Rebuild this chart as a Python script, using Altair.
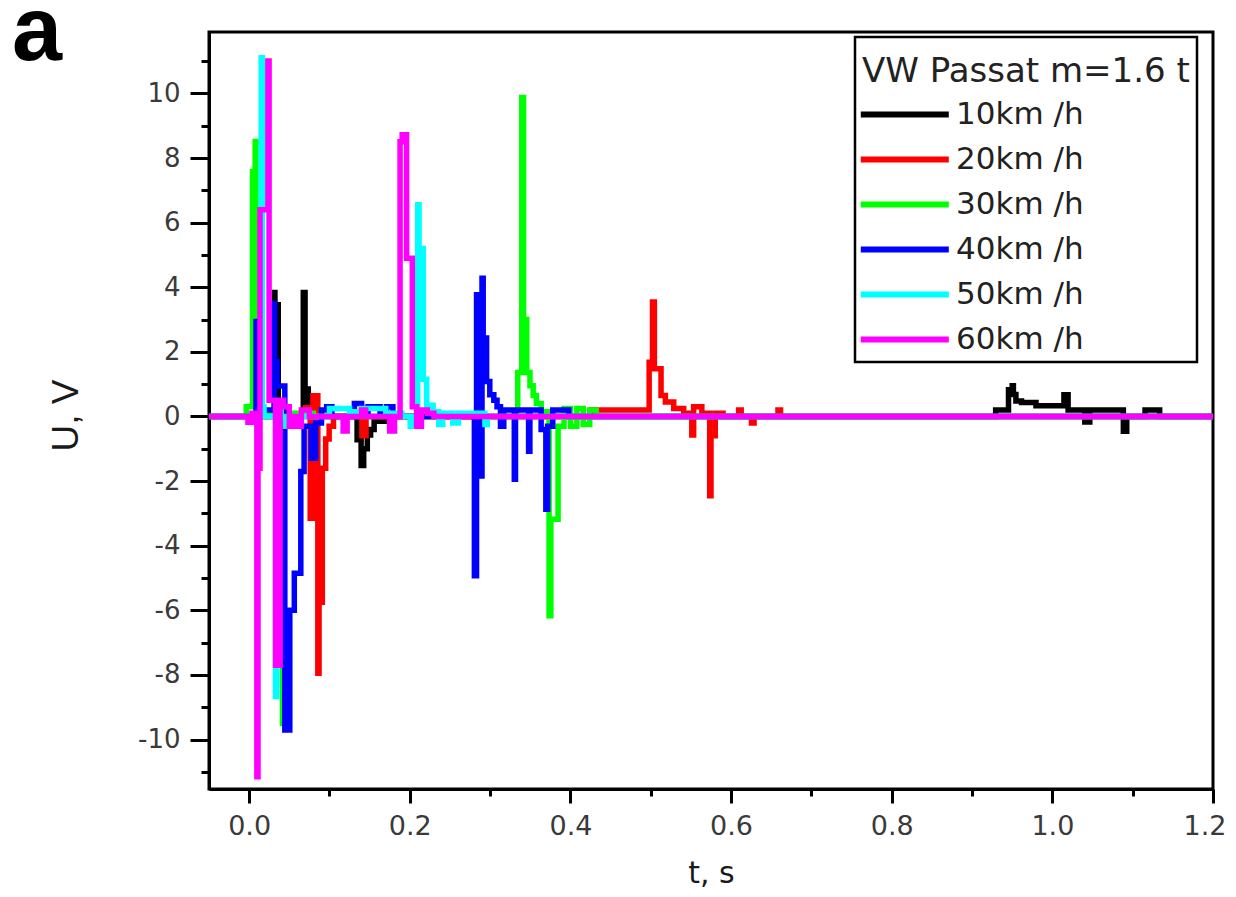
import altair as alt
import pandas as pd

series_names = ["10km /h", "20km /h", "30km /h", "40km /h", "50km /h", "60km /h"]
series_colors = ["#000000", "#ff0000", "#00ff00", "#0000ff", "#00ffff", "#ff00ff"]

t10 = [-0.05, 0.0314, 0.0321, 0.0362, 0.045, 0.0674, 0.0696, 0.0736, 0.0776, 0.085,
       0.1344, 0.1394, 0.1426, 0.1471, 0.1512, 0.1556, 0.1716,
       0.9294, 0.9454, 0.9500, 0.9515, 0.9546, 0.9616, 0.9796, 1.0144, 1.0196,
       1.0404, 1.0466, 1.0884, 1.0926, 1.1154, 1.1336, 1.2]
u10 = [0, 3.84, 3.46, 0.3, 0.05, 3.84, 0.85, 0.4, 0.15, 0,
       -0.72, -1.52, -1.0, -0.57, -0.4, -0.15, 0,
       0.2, 0.83, 0.95, 0.68, 0.48, 0.43, 0.33, 0.67, 0.2,
       -0.17, 0.2, -0.46, 0, 0.2, 0, 0]

t20 = [-0.05, 0.0705, 0.076, 0.0795, 0.0855, 0.087, 0.0911, 0.0953, 0.0996, 0.105,
       0.1405, 0.1455, 0.426, 0.498, 0.5022, 0.5045, 0.5128, 0.5182, 0.5286, 0.541,
       0.5511, 0.5534, 0.5636, 0.5734, 0.575, 0.5803, 0.59, 0.6094, 0.6126, 0.6254,
       0.6286, 0.6584, 0.6616, 1.2]
u20 = [0, 0.27, -3.15, 0.64, -7.95, -5.75, -1.6, -0.7, -0.3, 0,
       -0.6, 0, 0.2, 1.68, 3.54, 1.48, 0.65, 0.45, 0.25, 0.1,
       -0.57, 0.3, 0.1, -2.45, -0.6, 0.1, 0, 0.2, 0, -0.2,
       0, 0.2, 0, 0]

t30 = [-0.05, -0.0036, 0.0042, 0.0075, 0.0085, 0.012, 0.0415, 0.042, 0.08,
       0.3344, 0.3394, 0.3416, 0.3456, 0.3496, 0.3536, 0.3576, 0.3636, 0.3734,
       0.3756, 0.3846, 0.392, 0.400, 0.408, 0.416, 0.424, 0.432, 1.2]
u30 = [0, 0.3, 7.58, 8.51, 0.3, 0.1, -9.5, 0.1, 0,
       1.36, 9.87, 3.0, 1.36, 0.95, 0.65, 0.4, 0.15, -6.17,
       -3.18, -0.3, 0.25, -0.3, 0.25, -0.25, 0.2, 0, 0]

t40 = [-0.05, 0.0085, 0.0088, 0.0312, 0.0316, 0.0346, 0.0444, 0.0506, 0.0562, 0.0643,
       0.0684, 0.0773, 0.0829, 0.09, 0.0965, 0.103, 0.131, 0.14, 0.146, 0.148,
       0.163, 0.171, 0.179, 0.2804, 0.2831, 0.2866, 0.2899, 0.2914, 0.2956, 0.2996,
       0.3046, 0.3086, 0.3129, 0.317, 0.3301, 0.3316, 0.3479, 0.3495, 0.3635, 0.3694,
       0.3716, 0.378, 0.398, 1.2]
u40 = [0, 2.94, 0.2, 3.5, 1.7, 0.94, -9.7, -6.0, -4.85, -1.7,
       -0.3, -1.29, -0.2, 0.2, 0.3, 0, 0.4, 0.25, 0.1, 0.3,
       0.1, 0.3, 0, -4.93, 3.77, -1.84, 4.28, 2.43, 1.08, 0.67,
       0.5, 0.3, -0.3, 0.2, -1.94, 0.2, -1.08, 0.2, -0.4, -2.87,
       -0.3, 0.2, 0, 0]

t50 = [-0.05, 0.015, 0.0165, 0.0185, 0.0328, 0.0343, 0.04, 0.045, 0.051, 0.10,
       0.125, 0.14, 0.17, 0.19, 0.2005, 0.2055, 0.2099, 0.2115, 0.2168, 0.221,
       0.229, 0.236, 0.241, 0.2535, 0.2605, 0.2935, 0.2965, 1.2]
u50 = [0, 11.1, 0.3, 0, -8.67, 0.2, 0, -0.3, 0, 0.25,
       0.15, 0.25, 0.1, 0, -0.3, 0, 6.55, 5.2, 1.15, 0.35,
       0.15, -0.25, 0.1, -0.2, 0.1, -0.25, 0, 0]

t60 = [-0.05, -0.0015, 0.0035, 0.0096, 0.011, 0.0135, 0.0233, 0.0248, 0.0328, 0.0385,
       0.043, 0.05, 0.055, 0.06, 0.065, 0.075, 0.117, 0.122, 0.14, 0.145,
       0.175, 0.181, 0.1879, 0.1905, 0.196, 0.2031, 0.2085, 0.2145, 0.222, 0.23, 1.2]
u60 = [0, -0.18, 0.1, -11.15, -1.6, 6.4, 11.0, 0.5, -7.7, 0.5,
       0.3, -0.3, 0, -0.3, 0.2, 0, -0.45, 0, 0.2, 0,
       -0.45, 0, 8.5, 8.72, 4.9, 0.3, -0.3, 0.2, 0.1, 0, 0]

major_x = [0.0, 0.2, 0.4, 0.6, 0.8, 1.0, 1.2]
minor_x = [0.1, 0.3, 0.5, 0.7, 0.9, 1.1]
major_y = [-10, -8, -6, -4, -2, 0, 2, 4, 6, 8, 10]
minor_y = [-11, -9, -7, -5, -3, -1, 1, 3, 5, 7, 9, 11]
panel_label = "a"
legend_title = "VW Passat m=1.6 t"

frames = []
for name, ts, us in zip(series_names, [t10, t20, t30, t40, t50, t60],
                        [u10, u20, u30, u40, u50, u60]):
    frames.append(pd.DataFrame({"t": ts, "u": us, "series": name}))
df = pd.concat(frames, ignore_index=True)

xscale = alt.Scale(domain=[-0.05, 1.2], nice=False, zero=False)
yscale = alt.Scale(domain=[-11.53, 11.9], nice=False, zero=False)

LABEL_FONT = "DejaVu Sans"

lines = alt.Chart(df).mark_line(
    interpolate="step-after", strokeWidth=5.5, strokeJoin="miter", strokeCap="butt", clip=True
).encode(
    x=alt.X("t:Q", scale=xscale, axis=alt.Axis(
        orient="bottom", values=major_x, format=".1f", tickSize=14, tickWidth=3,
        tickColor="black", domainColor="black", domainWidth=3, grid=False,
        labelFont=LABEL_FONT, labelFontSize=27, labelColor="#3a3a3a", labelPadding=10,
        labelFlush=True, labelFlushOffset=13, title="t, s", titleFont=LABEL_FONT,
        titleFontSize=30, titleFontWeight="normal", titleColor="#1a1a1a", titleY=93,
        titleBaseline="alphabetic")),
    y=alt.Y("u:Q", scale=yscale, axis=alt.Axis(
        orient="left", values=major_y, labelExpr="toString(datum.value)", tickSize=19,
        tickWidth=3, tickColor="black", domainColor="black", domainWidth=3, grid=False,
        labelFont=LABEL_FONT, labelFontSize=26, labelColor="#3a3a3a", labelPadding=10,
        labelFlush=False, title="U, V", titleFont="Liberation Sans", titleFontSize=37,
        titleFontWeight="normal", titleColor="#1a1a1a", titleX=-143, titleY=383,
        titleAngle=270, titleBaseline="middle", titleAlign="center")),
    color=alt.Color("series:N", scale=alt.Scale(domain=series_names, range=series_colors),
                    legend=alt.Legend(
                        orient="none", legendX=646, legendY=5, title=legend_title,
                        titleFont=LABEL_FONT, titleFontSize=34, titleFontWeight="normal",
                        titleColor="#222222", titlePadding=21, titleAnchor="start",
                        titleLimit=500, titleBaseline="line-top", titleLineHeight=56,
                        labelFont=LABEL_FONT, labelFontSize=31, labelColor="#222222",
                        labelOffset=63, labelLimit=300,
                        symbolType="M-3.34,0H14.26", symbolSize=100,
                        symbolStrokeWidth=6, rowPadding=13, padding=7,
                        strokeColor="black", fillColor="white")),
)

minor = alt.Chart(df).mark_point(opacity=0, size=1).encode(
    x=alt.X("t:Q", scale=xscale, axis=alt.Axis(
        orient="bottom", values=minor_x, tickSize=7, tickWidth=3, tickColor="black",
        labels=False, domain=False, grid=False, title=None)),
    y=alt.Y("u:Q", scale=yscale, axis=alt.Axis(
        orient="left", values=minor_y, tickSize=8, tickWidth=3, tickColor="black",
        labels=False, domain=False, grid=False, title=None)),
)

label = alt.Chart(pd.DataFrame({"label": [panel_label]})).mark_text(
    font="Liberation Sans", fontSize=90, fontWeight="bold", align="left",
    baseline="alphabetic", color="black"
).encode(x=alt.value(-197), y=alt.value(28), text="label:N")

chart = alt.layer(minor, lines, label).resolve_axis(
    x="independent", y="independent"
).properties(
    width=1004, height=757,
    padding={"left": 201, "top": 24, "right": 15, "bottom": 100},
    autosize=alt.AutoSizeParams(type="none"),
).configure_view(stroke="black", strokeWidth=3).configure_legend(strokeWidth=2.5)

chart.save("out.html", embed_options={"renderer": "svg", "actions": False})
